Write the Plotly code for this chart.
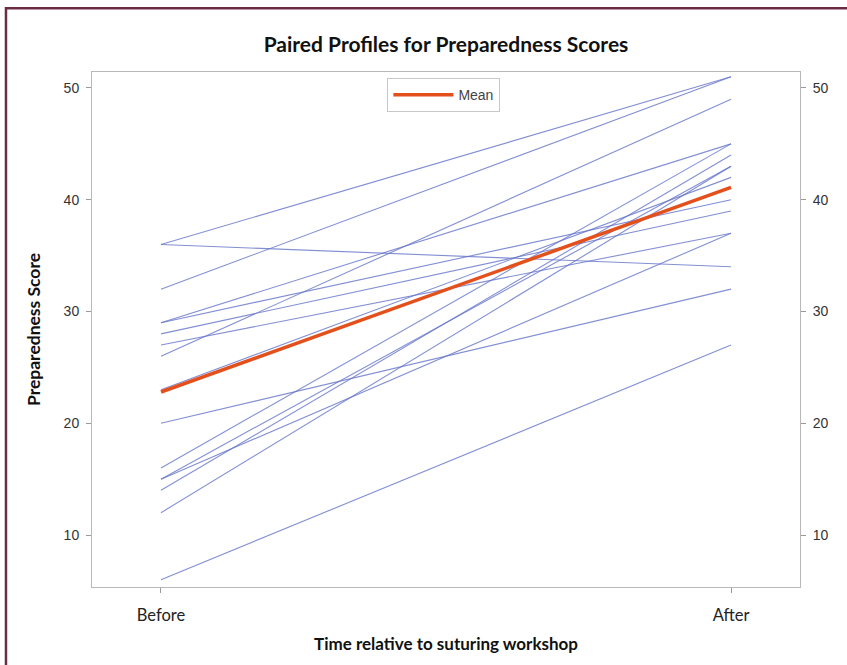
import plotly.graph_objects as go

# ───── datos ──────────────────────────────────────────────
tiempos = ["Before", "After"]
antes   = [36, 36, 32, 29, 29, 28, 27, 26, 23, 20, 16, 15, 15, 14, 12, 6]
despues = [51, 34, 51, 45, 40, 39, 37, 49, 42, 32, 45, 43, 37, 44, 43, 27]
media   = [22.8, 41.1]
y_ticks = [10, 20, 30, 40, 50]

AZUL = "rgba(100,115,200,0.8)"
NARANJA = "#e4501c"
FUENTE = "Lato"

fig = go.Figure()

# perfiles individuales
for a, d in zip(antes, despues):
    fig.add_scatter(x=tiempos, y=[a, d], mode="lines",
                    line=dict(color=AZUL, width=1.1), showlegend=False,
                    hoverinfo="skip")

# media
fig.add_scatter(x=tiempos, y=media, mode="lines", name="Mean",
                line=dict(color=NARANJA, width=3.5))

# eje derecho (mismo rango)
fig.add_scatter(x=tiempos, y=media, yaxis="y2", mode="lines",
                line=dict(width=0), showlegend=False, hoverinfo="skip",
                opacity=0)

eje = dict(showline=True, linecolor="#b8b8b8", linewidth=1, mirror=False,
           ticks="outside", ticklen=5, tickcolor="#9a9a9a",
           showgrid=False, zeroline=False)

fig.update_layout(
    width=847, height=665,
    paper_bgcolor="white", plot_bgcolor="white",
    margin=dict(l=92, r=47, t=72, b=78),
    title=dict(text="<b>Paired Profiles for Preparedness Scores</b>",
               xref="paper", x=0.5, xanchor="center",
               y=1 - 45 / 665, yanchor="middle",
               font=dict(family=FUENTE, size=21, color="#111")),
    xaxis=dict(eje, type="category", range=[-0.121, 1.121],
               mirror=True, ticklabelstandoff=8,
               title=dict(text="<b>Time relative to suturing workshop</b>",
                          font=dict(family=FUENTE, size=17, color="#111"),
                          standoff=14),
               tickfont=dict(family=FUENTE, size=16.5, color="#222")),
    yaxis=dict(eje, range=[5.35, 51.43], tickvals=y_ticks,
               ticklabelstandoff=4,
               title=dict(text="<b>Preparedness Score</b>",
                          font=dict(family=FUENTE, size=17.5, color="#111"),
                          standoff=18),
               tickfont=dict(family="Liberation Sans", size=14, color="#333")),
    yaxis2=dict(eje, overlaying="y", side="right", range=[5.35, 51.43],
                tickvals=y_ticks, ticklabelstandoff=4,
                tickfont=dict(family="Liberation Sans", size=14, color="#333")),
    legend=dict(x=0.497, y=0.988, xanchor="center", yanchor="top",
                bgcolor="white", bordercolor="#c8c8c8", borderwidth=1,
                font=dict(family="Liberation Sans", size=14, color="#444"),
                itemwidth=60, tracegroupgap=0),
    shapes=[dict(type="rect", xref="paper", yref="paper",
                 x0=-0.1215, x1=1.2, y0=-0.3, y1=1.124,
                 line=dict(color="#6b2c45", width=2.5))],
)

fig.write_html("out.html", config={"displayModeBar": False},
               post_script="document.body.style.margin='0';")
